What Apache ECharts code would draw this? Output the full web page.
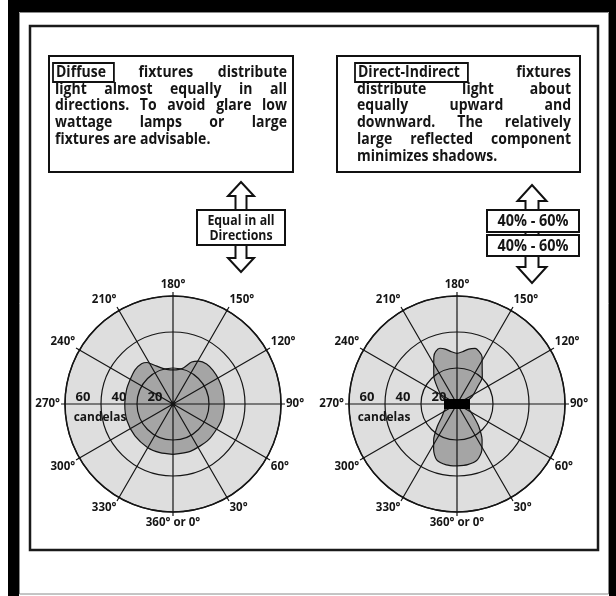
<!DOCTYPE html>
<html><head><meta charset="utf-8">
<script src="https://cdn.jsdelivr.net/npm/echarts@6/dist/echarts.min.js"></script>
<style>html,body{margin:0;padding:0;background:#fff}#c{width:616px;height:596px}</style>
</head><body><div id="c"></div>
<script>
// ---------- data ----------
const radiusTicks = [20, 40, 60];
const diffuseAngles   = [0, 20, 45, 70, 90, 105, 118, 130, 140, 149, 156, 164, 172, 180, 188, 196, 206, 212, 218, 228, 240, 253, 270, 290, 310, 330, 345, 360];
const diffuseCandelas = [28, 28, 28, 28.3, 28.5, 28.6, 28.8, 29, 29, 27.8, 25.5, 20.8, 19.3, 19, 19.3, 20.6, 24.1, 27.2, 28.4, 28.4, 27.4, 27, 26.8, 27.2, 27.6, 28, 28, 28];
const directAngles   = [0, 10, 20, 28, 35, 44, 53, 65, 78, 90, 102, 116, 130, 137, 146, 152, 157, 162, 168, 174, 180, 186, 192, 197, 202, 206, 212, 220, 229, 244, 258, 270, 282, 295, 310, 319, 327, 333, 340, 350, 360];
const directCandelas = [34.4, 34.2, 33, 29.3, 24.3, 17.4, 11.6, 7.5, 5, 4, 5, 9.3, 15, 20.6, 25, 29.7, 31.6, 32.5, 31.2, 29.2, 28.1, 29.2, 31.2, 32.4, 31.5, 29.3, 24.4, 20, 14.7, 9.3, 5, 4, 5, 7.5, 10.9, 16.8, 23.8, 28.6, 33, 34.3, 34.4];
const fixtureRadius = [0];
const fixtureAngle = [0];

const leftLabel = 'Diffuse';
const leftLines = [
  ['fixtures', 'distribute'],
  ['light', 'almost', 'equally', 'in', 'all'],
  ['directions.', 'To', 'avoid', 'glare', 'low'],
  ['wattage', 'lamps', 'or', 'large'],
  ['fixtures', 'are', 'advisable.']
];
const rightLabel = 'Direct-Indirect';
const rightLines = [
  ['fixtures'],
  ['distribute', 'light', 'about'],
  ['equally', 'upward', 'and'],
  ['downward.', 'The', 'relatively'],
  ['large', 'reflected', 'component'],
  ['minimizes', 'shadows.']
];
const leftArrowText = ['Equal in all', 'Directions'];
const rightArrowText = ['40% - 60%', '40% - 60%'];
const unitName = 'candelas';

// ---------- helpers ----------
const FONT_FAMILY = '"Open Sans", "DejaVu Sans", sans-serif';
const ctx = document.createElement('canvas').getContext('2d');
function tw(s, font) { ctx.font = font; return ctx.measureText(s).width; }
function toAxisAngle(a) { return a > 270 ? a - 360 : a; }
function polarData(angles, vals) { return angles.map((a, i) => [vals[i], toAxisAngle(a)]); }

const graphics = [];
const ink = '#151515';
function txt(x, y, text, font, align, z, sx) {
  graphics.push({ type: 'text', x: x, y: y, z: z || 10, scaleX: sx || 1,
    style: { text: text, font: font, fill: ink, align: align || 'left', verticalAlign: 'middle', textAlign: align || 'left', textVerticalAlign: 'middle' } });
}
function rect(x, y, w, h, fill, stroke, lw, z) {
  graphics.push({ type: 'rect', z: z || 10, shape: { x: x, y: y, width: w, height: h },
    style: { fill: fill, stroke: stroke, lineWidth: lw || 0 } });
}

// frames
rect(8, 0, 11, 596, '#000', null, 0, 1);
rect(8, 0, 608, 12, '#000', null, 0, 1);
rect(609, 0, 7, 596, '#000', null, 0, 1);
rect(19.5, 12.5, 589, 581.5, 'none', '#8a8a8a', 1, 1);
rect(30, 26, 568, 524, 'none', '#1a1a1a', 2.5, 1);

// text boxes
const BODY = 'bold 16px ' + FONT_FAMILY;
const BSX = 0.875;
function textBox(bx, by, bw, bh, tx0, tx1, label, lines) {
  rect(bx, by, bw, bh, '#fff', '#111', 2, 5);
  const lh = 16.7, y0 = 72.5;
  lines.forEach((words, li) => {
    const y = y0 + li * lh;
    const items = [];
    if (li === 0) items.push({ t: label, boxed: true });
    words.forEach(w => items.push({ t: w }));
    const widths = items.map(it => tw(it.t, BODY) * BSX + (it.boxed ? 9 : 0));
    const total = widths.reduce((a, b) => a + b, 0);
    const last = li === lines.length - 1;
    const gap = (!last && items.length > 1) ? (tx1 - tx0 - total) / (items.length - 1) : tw(' ', BODY) * BSX;
    let x = (items.length === 1 && !last) ? tx1 - total : tx0;
    items.forEach((it, k) => {
      if (it.boxed) {
        rect(x - 2, y - 9.5, widths[k] + 2, 19, '#fff', '#111', 1.8, 6);
        txt(x + 1, y, it.t, BODY, 'left', 7, BSX);
      } else {
        txt(x, y, it.t, BODY, 'left', 7, BSX);
      }
      x += widths[k] + gap;
    });
  });
}
textBox(49, 56, 244, 116, 55, 287, leftLabel, leftLines);
textBox(337, 56, 243, 116, 357, 571, rightLabel, rightLines);

// arrows
function dblArrow(cx, topTip, headH, headHW, shaftHW, botTip) {
  const pts = [
    [cx, topTip], [cx + headHW, topTip + headH], [cx + shaftHW, topTip + headH],
    [cx + shaftHW, botTip - headH], [cx + headHW, botTip - headH], [cx, botTip],
    [cx - headHW, botTip - headH], [cx - shaftHW, botTip - headH],
    [cx - shaftHW, topTip + headH], [cx - headHW, topTip + headH]
  ];
  graphics.push({ type: 'polygon', z: 5, shape: { points: pts }, style: { fill: '#fff', stroke: '#111', lineWidth: 2 } });
}
const ARW = 'bold 14px ' + FONT_FAMILY;
dblArrow(241, 182, 14, 13, 5.5, 272);
rect(197, 210, 88, 35, '#fff', '#111', 2, 6);
txt(241, 221, leftArrowText[0], ARW, 'center', 7, 0.88);
txt(241, 236, leftArrowText[1], ARW, 'center', 7, 0.88);

const ARW2 = 'bold 16px ' + FONT_FAMILY;
dblArrow(532, 185, 16, 14.5, 6.5, 283);
rect(487, 210, 92, 22, '#fff', '#111', 2, 6);
rect(487, 235, 92, 21, '#fff', '#111', 2, 6);
txt(533, 221.5, rightArrowText[0], ARW2, 'center', 7, 0.9);
txt(533, 246, rightArrowText[1], ARW2, 'center', 7, 0.9);

// polar charts
const R = 108;
const centers = [[173, 404], [457, 404]];
const LBL = { color: ink, fontFamily: FONT_FAMILY, fontWeight: 'bold', fontSize: 11.5 };
centers.forEach(c => txt(c[0] - 73, c[1] + 13, unitName, 'bold 13px ' + FONT_FAMILY, 'center', 1, 0.92));

const polar = [], angleAxis = [], radiusAxis = [];
centers.forEach((c, k) => {
  polar.push({ center: c, radius: R }, { center: c, radius: R });
  const base = { type: 'value', min: -90, max: 270, interval: 30, startAngle: 180, clockwise: false };
  angleAxis.push(Object.assign({}, base, { polarIndex: 2 * k, z: 0,
    axisLine: { show: false }, axisTick: { show: false }, axisLabel: { show: false },
    splitLine: { show: false }, splitArea: { show: true, areaStyle: { color: ['#dedede', '#dedede'] } } }));
  angleAxis.push(Object.assign({}, base, { polarIndex: 2 * k + 1, z: 3,
    axisLine: { show: true, lineStyle: { color: ink, width: 1.5 } },
    axisTick: { show: true, length: 4, lineStyle: { color: ink, width: 1.2 } },
    axisLabel: Object.assign({ show: true, margin: 5,
      formatter: v => { const a = v < 0 ? v + 360 : v; return a === 0 ? '360° or 0°' : a + '°'; } }, LBL),
    splitLine: { show: true, lineStyle: { color: ink, width: 1.2 } }, splitArea: { show: false } }));
  const rb = { type: 'value', min: 0, max: 60, interval: 20, axisLine: { show: false }, axisTick: { show: false }, axisLabel: { show: false } };
  radiusAxis.push(Object.assign({}, rb, { polarIndex: 2 * k, z: 0, splitLine: { show: false } }));
  radiusAxis.push(Object.assign({}, rb, { polarIndex: 2 * k + 1, z: 3, splitLine: { show: true, lineStyle: { color: ink, width: 1.2 } } }));
});

function shapeSeries(polarIndex, angles, vals) {
  return { type: 'line', coordinateSystem: 'polar', polarIndex: polarIndex, z: 2,
    data: polarData(angles, vals), symbol: 'none', smooth: 0.25, silent: true, animation: false,
    lineStyle: { color: ink, width: 1.2 }, areaStyle: { color: '#a5a5a5', opacity: 1 } };
}
function tickLabelSeries(polarIndex) {
  return { type: 'scatter', coordinateSystem: 'polar', polarIndex: polarIndex, z: 4, silent: true, animation: false,
    data: radiusTicks.map(r => [r, toAxisAngle(270)]), symbolSize: 1, itemStyle: { color: 'rgba(0,0,0,0)', opacity: 1 },
    label: Object.assign({ show: true, position: 'right', distance: 10, offset: [0, -7], opacity: 1,
      formatter: p => String(p.value[0]) }, LBL, { fontSize: 13 }) };
}

const series = [
  shapeSeries(1, diffuseAngles, diffuseCandelas),
  tickLabelSeries(1),
  shapeSeries(3, directAngles, directCandelas),
  tickLabelSeries(3),
  { type: 'scatter', coordinateSystem: 'polar', polarIndex: 3, z: 5, silent: true, animation: false,
    data: fixtureRadius.map((r, i) => [r, fixtureAngle[i]]), symbol: 'rect', symbolSize: [26, 10], itemStyle: { color: '#000', opacity: 1 } }
];

const chart = echarts.init(document.getElementById('c'), null, { renderer: 'canvas' });
chart.setOption({
  backgroundColor: '#fff', animation: false,
  polar: polar, angleAxis: angleAxis, radiusAxis: radiusAxis, series: series,
  graphic: { elements: graphics }
});
</script></body></html>
